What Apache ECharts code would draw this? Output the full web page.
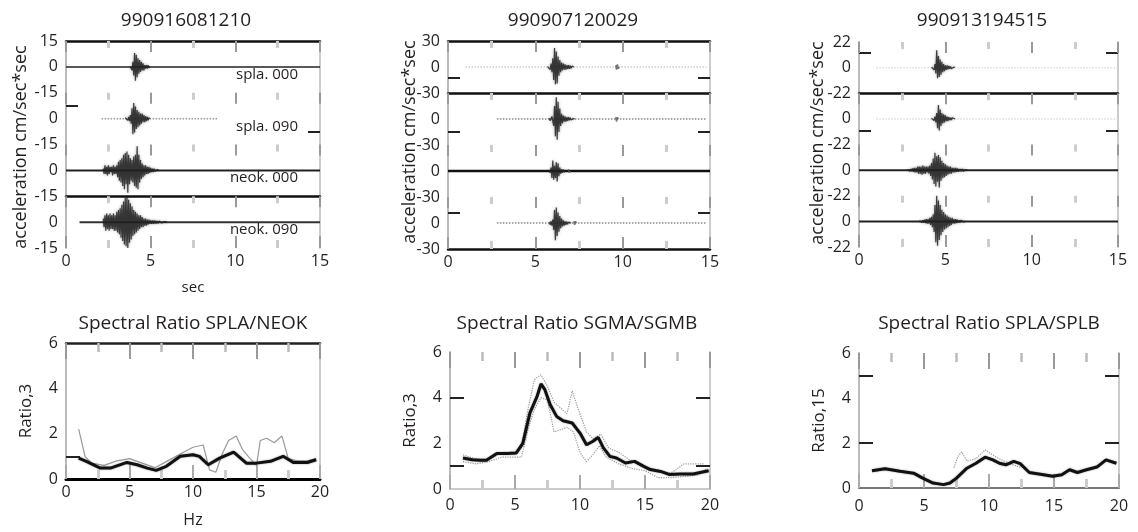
<!DOCTYPE html>
<html><head><meta charset="utf-8">
<script src="https://cdn.jsdelivr.net/npm/echarts@6/dist/echarts.min.js"></script>
<style>html,body{margin:0;padding:0;background:#fff}#c{width:1138px;height:532px}</style>
</head><body><div id="c"></div>
<script>
// ================= DATA =================
const topTitles = ['990916081210', '990907120029', '990913194515'];
const bottomTitles = ['Spectral Ratio SPLA/NEOK', 'Spectral Ratio SGMA/SGMB', 'Spectral Ratio SPLA/SPLB'];
const bottomYNames = ['Ratio,3', 'Ratio,3', 'Ratio,15'];
const topLimits = [15, 30, 22];
const traceLabels = ['spla. 000', 'spla. 090', 'neok. 000', 'neok. 090'];
const timeAxisMax = 15;
const freqAxisMax = 20;
const ratioAxisMax = 6;
const sampleStep = 0.05; // seconds between samples of the hand-read bursts

// --- panel 1 (990916081210) ---
const tlStart = [0, 2.1, 0, 0.8];
const tlEnd = [15, 9.0, 15, 15];
const tlBurstT0 = [3.8, 3.5, 2.2, 2.2];
const tl1 = [0,1,-2,3,-5,8,-8,7,-6,5,-4,4,-3,3,-2,2,-2,1,-1,1,-1,1,-0.5,0];
const tl2 = [0.5,-0.5,1,-1,1,-1.5,2,-3,6,-9,9,-8,7,-6,5,-5,4,-4,3,-3,3,-2,2,-2,1.5,-1.5,1,-1,0.5,0];
const tl3 = [1,-2,3,-2,2,-3,3,-2,2,-1, 2,-3,3,-2,2,-2,3,-4,5,-6, 6,-7,7,-9,9,-11,10,-8,11,-13,
             9,-8,7,-6,6,-7,8,-9,9,-10, 14,-11,9,-7,6,-5,4,-4,3,-3, 3,-2,2,-2,2,-1.5,1.5,-1,1,-1, 1,-0.5,0.5,-0.5,0.5,0];
const tl4 = [2,-3,4,-5,5,-4,4,-5,5,-4, 4,-4,5,-5,4,-5,6,-6,7,-7, 8,-9,10,-11,12,-13,14,-14,16,-15,
             13,-12,11,-10,9,-8,7,-7,6,-6, 5,-5,4,-4,4,-3,3,-3,2,-2, 2,-2,1.5,-1.5,1.5,-1,1,-1,1,-1,
             1,-0.8,0.8,-0.8,0.6,-0.6,0.6,-0.5,0.5,-0.5, 0.5,-0.3,0.3,-0.3,0.3,0];

// --- panel 2 (990907120029) ---
const tmStart = [1.0, 2.8, 0, 2.8];
const tmEnd = [14.8, 14.8, 15, 14.8];
const tmBurstT0 = [5.7, 5.8, 5.8, 5.8];
const tm1 = [0.5,-1,2,-3,4,-6,10,-15,22,-20, 18,-19,12,-10,8,-6,5,-4,4,-3, 3,-3,2,-2,2,-2,1.5,-1.5,1,-1,0];
const tm2 = [1,-2,-3,3,5,-8,15,-20,25,-24, 20,-15,12,-8,6,-5,4,-3,3,-3, 2,-2,2,-1.5,1.5,-1,1,-1,0.5,0];
const tm3 = [1,-2,4,-8,12,-10,6,-8,10,-12, 9,-6,4,-3,2,-2,1.5,-1,1,-0.5, 0.5,0];
const tm4 = [1,-2,2,-3,4,-8,15,-20,18,-15, 12,-10,8,-6,5,-4,3,-3,2,-2, 1.5,-1.5,1,-1,0.5,0];
const tmLateT0 = [9.6, 9.6, 6.9, 7.2];
const tm1Late = [2,-3,3,-2,0];
const tm2Late = [2,-3,2,0];
const tm3Late = [2,-2,0];
const tm4Late = [2,-2,2,0];

// --- panel 3 (990913194515) ---
const trStart = [1.0, 1.0, 0, 0];
const trEnd = [15, 15, 15, 15];
const trBurstT0 = [4.2, 4.2, 2.8, 3.5];
const tr1 = [0.5,-1,1,-2,3,-5,15,-9,10,-8, 7,-6,5,-4,3,-3,2,-2,2,-1.5, 1.5,-1,1,-1,0.5,-0.5,0.5,0];
const tr2 = [0.5,-1,1,-1.5,2,-3,5,-8,12,-10, 8,-6,5,-4,4,-3,3,-2,2,-2, 1.5,-1,1,-1,1,-0.5,0.5,0];
const tr3 = [0.5,-0.5,1,-1,1,-1,1.5,-1.5,2,-2, 2,-2,3,-3,3,-3,3,-4,4,-3, 3,-3,3,-2,3,-3,4,-5,6,-8,
             10,-12,15,-14,12,-10,13,-15,11,-9, 8,-7,6,-6,5,-5,4,-4,3,-3, 3,-3,2,-2,2,-2,2,-1.5,1.5,-1.5,
             1,-1,1,-1,1,-1,0.5,-0.5,0.5,0];
const tr4 = [0.5,-0.5,1,-1,1,-1,1.5,-1.5,2,-2, 2,-2,3,-3,4,-5,6,-9,14,-18, 22,-21,18,-16,14,-12,10,-9,8,-7,
             6,-6,5,-5,4,-4,3,-3,3,-2, 2,-2,2,-1.5,1.5,-1,1,-1,1,-0.5, 0.5,-0.5,0.5,0];

// --- spectral ratios ---
const blFreq = [1.0,1.6,2.7,3.5,4.8,5.6,6.4,7.1,7.9,9.0,10.0,10.5,11.2,12.1,13.2,14.2,15.0,16.1,17.1,17.9,19.0,19.7];
const blMain = [0.92,0.78,0.48,0.48,0.73,0.63,0.48,0.38,0.56,1.0,1.07,1.0,0.63,0.92,1.19,0.7,0.7,0.78,1.0,0.73,0.73,0.85];
const blGreyFreq = [1.0,1.5,2.0,3.0,4.0,5.0,6.0,7.0,8.0,9.0,10.0,10.8,11.3,11.8,12.3,12.8,13.4,13.9,14.5,15.0,15.3,15.8,16.4,17.0,17.5,18.2,19.0,19.7];
const blGrey = [2.2,1.0,0.7,0.6,0.8,0.9,0.7,0.5,0.8,1.1,1.4,1.5,0.4,0.3,1.1,1.7,1.9,1.3,0.9,0.6,1.7,1.8,1.6,1.9,0.9,0.8,0.8,0.9];

const bmFreq = [1.0,1.7,2.3,2.8,3.6,4.4,5.1,5.6,6.15,6.7,7.0,7.3,7.7,8.2,8.7,9.4,10.0,10.5,11.0,11.4,11.8,12.3,12.8,13.5,14.2,14.9,15.4,16.2,16.9,17.7,18.7,19.9];
const bmMain = [1.36,1.28,1.26,1.26,1.55,1.55,1.58,2.0,3.33,4.06,4.6,4.35,3.7,3.18,2.99,2.89,2.45,1.94,2.09,2.26,1.8,1.43,1.36,1.14,1.21,0.99,0.85,0.77,0.63,0.66,0.66,0.8];
const bmUpFreq = [1.0,2,3,4,5,5.5,6,6.5,7,7.5,8,9,9.4,9.8,10.5,11,11.6,12.2,13,14,15,16,17,18,19.5];
const bmUp = [1.5,1.3,1.3,1.6,1.6,1.8,3.5,4.8,5.0,4.5,3.8,3.3,4.3,3.6,2.5,2.2,2.4,1.8,1.6,1.2,1.0,0.8,0.7,1.1,1.1];
const bmLoFreq = [1.0,2,3,4,5,5.5,6,6.5,7,7.5,8,9,9.5,10,10.5,11,11.5,12,13,14,15,16,17,19,19.8];
const bmLo = [1.2,1.1,1.2,1.4,1.4,1.4,2.6,3.5,4.0,3.9,2.5,2.7,2.5,1.6,1.2,1.5,1.9,1.4,1.1,0.9,0.8,0.5,0.5,0.6,0.9];

const brFreq = [1.0,2.0,3.15,4.2,4.9,5.7,6.5,7.0,7.5,8.3,9.0,9.7,10.3,10.8,11.3,11.9,12.4,13.1,14.2,14.9,15.6,16.2,16.8,17.5,18.3,19.0,19.8];
const brMain = [0.77,0.86,0.74,0.66,0.44,0.22,0.15,0.22,0.44,0.88,1.1,1.37,1.25,1.1,1.03,1.18,1.08,0.69,0.59,0.52,0.59,0.81,0.69,0.81,0.93,1.25,1.1];
const brGreyFreq = [7.3,7.6,7.9,8.3,9.0,9.7,10.2,10.8,11.5,12.5];
const brGrey = [0.9,1.4,1.6,1.2,1.3,1.7,1.5,1.3,1.1,0.9];

// ================= LAYOUT / STYLE =================
const FONT = '"Open Sans", "Noto Sans", sans-serif';
const TXT = '#231f20';

const topPanels = [
  { left: 66, right: 320, top: 41, bottom: 248, lim: topLimits[0], titleX: 186,
    start: tlStart, end: tlEnd, t0: tlBurstT0, amps: [tl1, tl2, tl3, tl4], late: null,
    baseColor: ['#222', '#999', '#222', '#333'], baseType: ['solid', 'dotted', 'solid', 'solid'], baseWidth: [1.5, 1.5, 2, 2],
    hLines: [0, 3], yTicksL: [[], [7.5], [], []], yTicksR: [[], [-7.5], [], []] },
  { left: 448, right: 710, top: 41, bottom: 249, lim: topLimits[1], titleX: 573,
    start: tmStart, end: tmEnd, t0: tmBurstT0, amps: [tm1, tm2, tm3, tm4], late: [tm1Late, tm2Late, tm3Late, tm4Late], lateT0: tmLateT0,
    baseColor: ['#ccc', '#888', '#111', '#888'], baseType: ['dotted', 'dotted', 'solid', 'dotted'], baseWidth: [1.5, 1.5, 2.5, 1.5],
    hLines: [0, 1, 4], yTicksL: [[-12], [-15], [], [12]], yTicksR: [[-12], [-15], [], [12]] },
  { left: 859, right: 1118, top: 42, bottom: 247, lim: topLimits[2], titleX: 982,
    start: trStart, end: trEnd, t0: trBurstT0, amps: [tr1, tr2, tr3, tr4], late: null,
    baseColor: ['#ddd', '#ddd', '#222', '#222'], baseType: ['dotted', 'dotted', 'solid', 'solid'], baseWidth: [1.5, 1.5, 2, 2],
    hLines: [1], yTicksL: [[13], [-10], [], []], yTicksR: [[13], [-10], [], []] }
];

const bottomPanels = [
  { left: 66, right: 320, top: 343, bottom: 479, titleX: 193, freq: blFreq, main: blMain,
    greys: [[blGreyFreq, blGrey, 'solid']], topLine: true, bottomLine: { color: '#000', width: 3 },
    yTicksL: [1], yTicksR: [], labelMargin: 5, xName: 'Hz' },
  { left: 450, right: 710, top: 352, bottom: 489, titleX: 577, freq: bmFreq, main: bmMain,
    greys: [[bmUpFreq, bmUp, 'dotted'], [bmLoFreq, bmLo, 'dotted']], topLine: false, bottomLine: { color: '#bbb', width: 1.5 },
    yTicksL: [4, 1], yTicksR: [4, 1], labelMargin: 8, xName: '' },
  { left: 859, right: 1119, top: 353, bottom: 488, titleX: 989, freq: brFreq, main: brMain,
    greys: [[brGreyFreq, brGrey, 'dotted']], topLine: false, bottomLine: { color: '#777', width: 2 },
    yTicksL: [5, 2], yTicksR: [5, 2], labelMargin: 10, xName: '' }
];

const grid = [], xAxis = [], yAxis = [], series = [], graphic = [];
const labelStyle = { color: TXT, fontFamily: FONT, fontSize: 16 };

function burstData(t0, amp) { return amp.map((a, i) => [t0 + i * sampleStep, a]); }

topPanels.forEach((p, pi) => {
  const h = (p.bottom - p.top) / 4;
  for (let k = 0; k < 4; k++) {
    const gi = grid.length;
    grid.push({ left: p.left, top: p.top + k * h, width: p.right - p.left, height: h });
    const xb = xAxis.length;
    xAxis.push({
      gridIndex: gi, type: 'value', min: 0, max: timeAxisMax, interval: 5, position: 'bottom',
      axisLine: { show: p.hLines.includes(k + 1), onZero: false, lineStyle: { color: '#111', width: 2.5 } },
      axisTick: { show: k === 3, inside: true, length: 12, lineStyle: { color: '#999', width: 2 } },
      minorTick: { show: k === 3, splitNumber: 2, length: 8, lineStyle: { color: '#ccc', width: 3 } },
      axisLabel: { show: k === 3, margin: 5, ...labelStyle },
      splitLine: { show: false },
      name: (pi === 0 && k === 3) ? 'sec' : '', nameLocation: 'middle', nameGap: 32,
      nameTextStyle: { ...labelStyle, fontSize: 15 }
    });
    xAxis.push({
      gridIndex: gi, type: 'value', min: 0, max: timeAxisMax, interval: 5, position: 'top',
      axisLine: { show: k === 0 && p.hLines.includes(0), onZero: false, lineStyle: { color: '#111', width: 2.5 } },
      axisTick: { show: true, inside: true, length: 11, lineStyle: { color: '#999', width: 2 } },
      minorTick: { show: true, splitNumber: 2, length: 7, lineStyle: { color: '#ccc', width: 3 } },
      axisLabel: { show: false }, splitLine: { show: false }
    });
    const yl = yAxis.length;
    yAxis.push({
      gridIndex: gi, type: 'value', min: -p.lim, max: p.lim, interval: p.lim, position: 'left',
      axisLine: { show: true, onZero: false, lineStyle: { color: '#bbb', width: 2 } },
      axisTick: { show: p.yTicksL[k].length > 0, inside: true, customValues: p.yTicksL[k], length: 12, lineStyle: { color: '#222', width: 2 } },
      axisLabel: { showMaxLabel: k === 0, showMinLabel: true, margin: 8, ...labelStyle },
      splitLine: { show: false }
    });
    yAxis.push({
      gridIndex: gi, type: 'value', min: -p.lim, max: p.lim, interval: p.lim, position: 'right',
      axisLine: { show: true, onZero: false, lineStyle: { color: '#ccc', width: 2 } },
      axisTick: { show: p.yTicksR[k].length > 0, inside: true, customValues: p.yTicksR[k], length: 12, lineStyle: { color: '#222', width: 2 } },
      axisLabel: { show: false }, splitLine: { show: false }
    });
    series.push({
      type: 'line', xAxisIndex: xb, yAxisIndex: yl, data: [[p.start[k], 0], [p.end[k], 0]],
      showSymbol: false, silent: true, animation: false,
      lineStyle: { color: p.baseColor[k], width: p.baseWidth[k], type: p.baseType[k] }
    });
    series.push({
      type: 'line', xAxisIndex: xb, yAxisIndex: yl, data: burstData(p.t0[k], p.amps[k]),
      showSymbol: false, silent: true, animation: false,
      lineStyle: { color: '#222', width: 1.2, opacity: 0.85, shadowBlur: 3, shadowColor: 'rgba(0,0,0,0.45)' }
    });
    if (p.late) {
      series.push({
        type: 'line', xAxisIndex: xb, yAxisIndex: yl, data: burstData(p.lateT0[k], p.late[k]),
        showSymbol: false, silent: true, animation: false,
        lineStyle: { color: '#555', width: 1.5, opacity: 0.8 }
      });
    }
  }
  graphic.push({ type: 'text', x: p.titleX, y: 21,
    style: { text: topTitles[pi], font: '19px ' + FONT, fill: TXT, align: 'center', verticalAlign: 'middle' } });
});

// y names top (rotated)
const topYNameX = [21, 410, 818];
const topYNameY = [147, 142, 143];
topYNameX.forEach((x, i) => {
  graphic.push({ type: 'text', x: x, y: topYNameY[i], rotation: Math.PI / 2,
    style: { text: 'acceleration cm/sec*sec', font: '18px ' + FONT, fill: TXT, align: 'center', verticalAlign: 'middle' } });
});
// trace labels in panel 1
const traceLabelY = [75, 127, 178, 230];
traceLabels.forEach((t, i) => {
  graphic.push({ type: 'text', x: 298, y: traceLabelY[i],
    style: { text: t, font: '15px ' + FONT, fill: TXT, align: 'right', verticalAlign: 'middle' } });
});

bottomPanels.forEach((p, pi) => {
  const gi = grid.length;
  grid.push({ left: p.left, top: p.top, width: p.right - p.left, height: p.bottom - p.top });
  const xb = xAxis.length;
  xAxis.push({
    gridIndex: gi, type: 'value', min: 0, max: freqAxisMax, interval: 5, position: 'bottom',
    axisLine: { show: true, onZero: false, lineStyle: p.bottomLine },
    axisTick: { show: true, inside: true, length: 14, lineStyle: { color: '#aaa', width: 2 } },
    minorTick: { show: true, splitNumber: 2, length: 9, lineStyle: { color: '#ccc', width: 3 } },
    axisLabel: { margin: p.labelMargin, ...labelStyle },
    splitLine: { show: false },
    name: p.xName, nameLocation: 'middle', nameGap: 33, nameTextStyle: { ...labelStyle, fontSize: 16 }
  });
  xAxis.push({
    gridIndex: gi, type: 'value', min: 0, max: freqAxisMax, interval: 5, position: 'top',
    axisLine: { show: p.topLine, onZero: false, lineStyle: { color: '#222', width: 2.5 } },
    axisTick: { show: true, inside: true, length: 16, lineStyle: { color: '#999', width: 2 } },
    minorTick: { show: true, splitNumber: 2, length: 9, lineStyle: { color: '#bbb', width: 2.5 } },
    axisLabel: { show: false }, splitLine: { show: false }
  });
  const yl = yAxis.length;
  yAxis.push({
    gridIndex: gi, type: 'value', min: 0, max: ratioAxisMax, interval: 2, position: 'left',
    axisLine: { show: true, onZero: false, lineStyle: { color: '#bbb', width: 2 } },
    axisTick: { show: p.yTicksL.length > 0, inside: true, customValues: p.yTicksL, length: 14, lineStyle: { color: '#222', width: 2 } },
    axisLabel: { margin: 8, ...labelStyle },
    splitLine: { show: false },
    name: bottomYNames[pi], nameLocation: 'middle', nameGap: 31, nameRotate: 90,
    nameTextStyle: { ...labelStyle, fontSize: 17 }
  });
  yAxis.push({
    gridIndex: gi, type: 'value', min: 0, max: ratioAxisMax, interval: 2, position: 'right',
    axisLine: { show: true, onZero: false, lineStyle: { color: '#ccc', width: 2 } },
    axisTick: { show: p.yTicksR.length > 0, inside: true, customValues: p.yTicksR, length: 14, lineStyle: { color: '#222', width: 2 } },
    axisLabel: { show: false }, splitLine: { show: false }
  });
  p.greys.forEach(g => {
    series.push({
      type: 'line', xAxisIndex: xb, yAxisIndex: yl, data: g[0].map((f, i) => [f, g[1][i]]),
      showSymbol: false, silent: true, animation: false,
      lineStyle: { color: '#999', width: 1.2, type: g[2] }
    });
  });
  series.push({
    type: 'line', xAxisIndex: xb, yAxisIndex: yl, data: p.freq.map((f, i) => [f, p.main[i]]),
    showSymbol: false, silent: true, animation: false,
    lineStyle: { color: '#111', width: 3, shadowBlur: 2, shadowColor: 'rgba(0,0,0,0.4)' }
  });
  graphic.push({ type: 'text', x: p.titleX, y: 324,
    style: { text: bottomTitles[pi], font: '19px ' + FONT, fill: TXT, align: 'center', verticalAlign: 'middle' } });
});

const chart = echarts.init(document.getElementById('c'), null, { renderer: 'canvas' });
chart.setOption({
  backgroundColor: '#fff',
  animation: false,
  grid, xAxis, yAxis, series, graphic
});
</script>
</body></html>
